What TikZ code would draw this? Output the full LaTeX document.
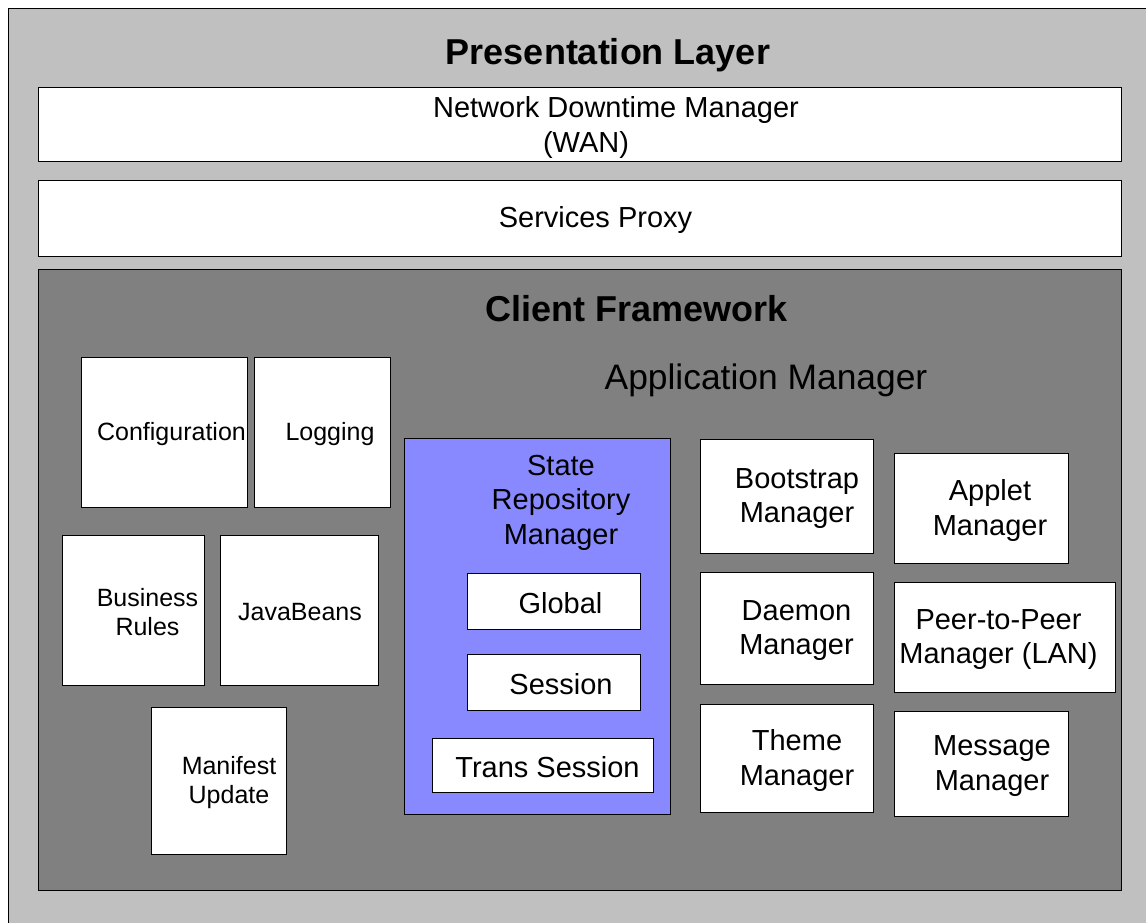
\documentclass[tikz,border=0pt]{standalone}
\usepackage{fontspec}
\setmainfont{Liberation Sans}
\usetikzlibrary{positioning}
\definecolor{layergray}{RGB}{192,192,192}
\definecolor{framegray}{RGB}{128,128,128}
\definecolor{repoblue}{RGB}{136,136,255}
\tikzset{
	arch/.style={x=1pt,y=-1pt,line width=1pt},
	layer/.style={draw,fill=layergray,inner sep=0pt},
	frame/.style={draw,fill=framegray,inner sep=0pt},
	box/.style={draw,fill=white,inner sep=0pt},
	repo/.style={draw,fill=repoblue,inner sep=0pt},
	txt/.style={align=center,yshift=-2.5pt,font=\fontsize{29}{34.5}\selectfont},
	smalltxt/.style={align=center,yshift=-2pt,font=\fontsize{25}{29}\selectfont},
	heading/.style={yshift=-3pt,font=\bfseries\fontsize{36}{40}\selectfont},
	subheading/.style={yshift=-2pt,font=\fontsize{35.4}{40}\selectfont}
}

\begin{document}
\begin{tikzpicture}[arch]
		
		\useasboundingbox (0,0) rectangle (1146,923);
		\clip (0,0) rectangle (1146,923);
		
		% presentation layer
		\node[layer,minimum width=1160pt,minimum height=940pt,anchor=north west] (pres) at (8,8) {};
		\node[heading] (prestitle) at (608,52) {Presentation Layer};
		\node[box,minimum width=1083pt,minimum height=74pt,
			label={[txt,align=left,xshift=36.5pt]center:Network Downtime Manager\\\hspace*{110pt}(WAN)}] (wan) at (579.5,125) {};
		\node[box,minimum width=1083pt,minimum height=76pt,
			label={[txt,xshift=16pt]center:Services Proxy}] (proxy) at (579.5,218) {};
		
		% client framework
		\node[frame,minimum width=1083pt,minimum height=621pt] (client) at (579.5,579.5) {};
		\node[heading] (clienttitle) at (636.5,306) {Client Framework};
		\node[subheading] (apptitle) at (766,378) {Application Manager};
		
		\node[box,minimum width=166pt,minimum height=150pt,
			label={[smalltxt,xshift=7.5pt]center:Configuration}] (config) at (164,432) {};
		\node[box,minimum width=136pt,minimum height=150pt,
			label={[smalltxt,xshift=8pt]center:Logging}] (logging) [right=6pt of config] {};
		\node[box,minimum width=142pt,minimum height=150pt,
			label={[smalltxt,xshift=14.5pt]center:Business\\Rules}] (rules) at (133,610) {};
		\node[box,minimum width=158pt,minimum height=150pt,
			label={[smalltxt,xshift=1pt]center:JavaBeans}] (beans) [right=15pt of rules] {};
		\node[box,minimum width=135pt,minimum height=147pt,
			label={[smalltxt,xshift=10.5pt]center:Manifest\\Update}] (manifest) at (218.5,780.5) {};
		
		% state repository
		\node[repo,minimum width=266pt,minimum height=376pt,
			label={[txt,xshift=24pt,yshift=126pt]center:State\\Repository\\Manager}] (staterepo) at (537,626) {};
		\node[box,minimum width=173pt,minimum height=56pt,
			label={[txt,xshift=7pt]center:Global}] (global) at (553.5,601) {};
		\node[box,minimum width=173pt,minimum height=56pt,
			label={[txt,xshift=7.5pt]center:Session}] (session) [below=24pt of global] {};
		\node[box,minimum width=221pt,minimum height=54pt,
			label={[txt,xshift=5pt]center:Trans Session}] (trans) at (542.5,765) {};
		
		% managers
		\node[box,minimum width=173pt,minimum height=114pt,
			label={[txt,xshift=10.5pt]center:Bootstrap\\Manager}] (boot) at (786.5,496) {};
		\node[box,minimum width=173pt,minimum height=112pt,
			label={[txt,xshift=10pt]center:Daemon\\Manager}] (daemon) [below=18pt of boot] {};
		\node[box,minimum width=173pt,minimum height=108pt,
			label={[txt,xshift=10.5pt]center:Theme\\Manager}] (theme) [below=19pt of daemon] {};
		\node[box,minimum width=174pt,minimum height=110pt,
			label={[txt,xshift=9pt]center:Applet\\Manager}] (applet) at (981,508) {};
		\node[box,minimum width=221pt,minimum height=110pt,
			label={[txt,xshift=-6pt]center:Peer-to-Peer\\Manager (LAN)}] (peer) at (1004.5,637) {};
		\node[box,minimum width=174pt,minimum height=105pt,
			label={[txt,xshift=11pt]center:Message\\Manager}] (message) at (981,763.5) {};
		
\end{tikzpicture}
\end{document}
